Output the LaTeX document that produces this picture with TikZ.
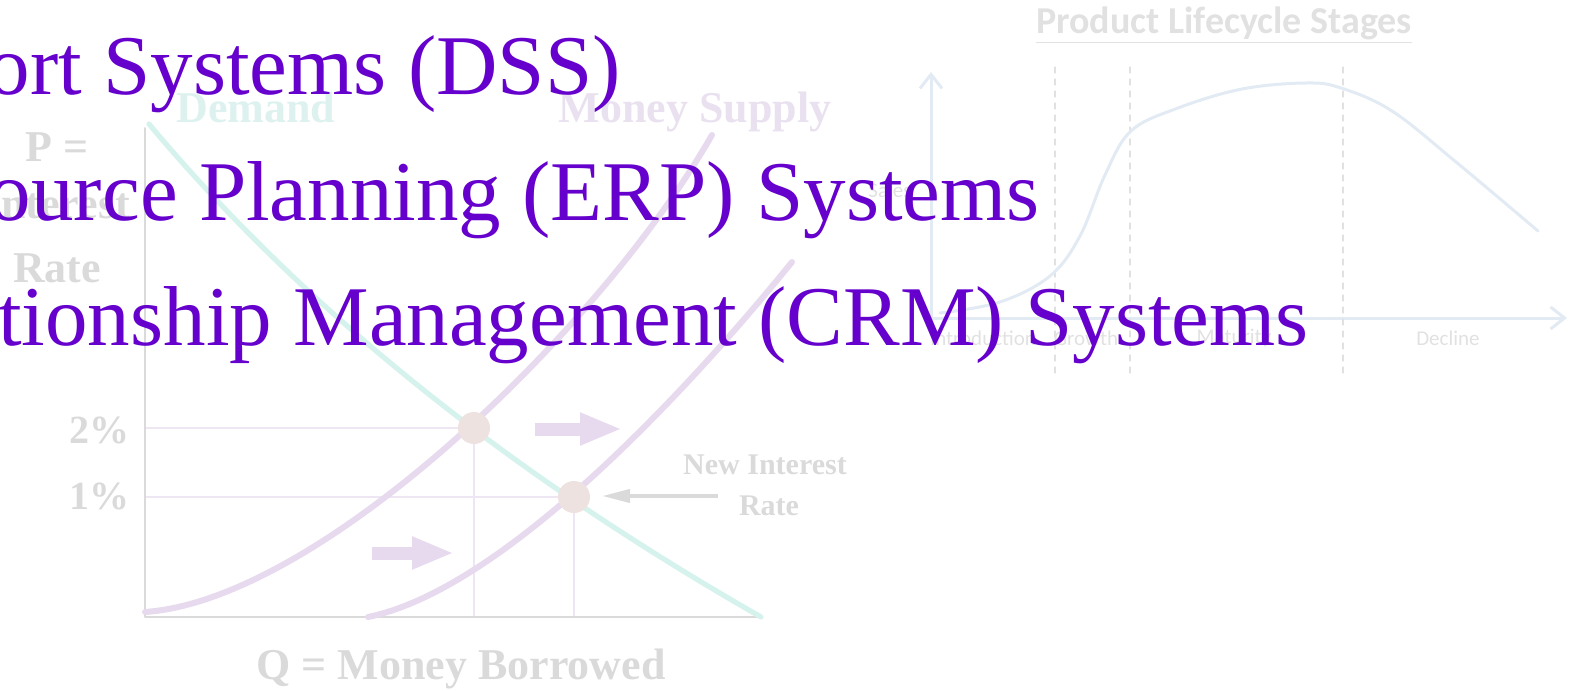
\documentclass[tikz,border=0pt]{standalone}
\usepackage{fontspec}
\setmainfont{Liberation Serif}
\newfontfamily\lifefont{Carlito}
\usetikzlibrary{positioning,calc,arrows.meta}
\definecolor{itempurple}{RGB}{102,0,204}
\definecolor{faintgray}{RGB}{218,218,218}
\definecolor{gridlilac}{RGB}{238,231,243}
\definecolor{demandteal}{RGB}{214,242,236}
\definecolor{demandtext}{RGB}{221,241,238}
\definecolor{supplylilac}{RGB}{231,217,238}
\definecolor{supplytext}{RGB}{233,225,239}
\definecolor{dotpink}{RGB}{238,226,225}
\definecolor{lifeblue}{RGB}{226,234,243}
\definecolor{lifegray}{RGB}{225,225,225}

\begin{document}
\begin{tikzpicture}[x=0.5pt,y=-0.5pt,line cap=round,line join=round,
    axisline/.style={draw=faintgray,line width=1pt},
    guideline/.style={draw=gridlilac,line width=0.8pt},
    demandcurve/.style={draw=demandteal,line width=2.6pt},
    supplycurve/.style={draw=supplylilac,line width=3pt},
    shiftarrow/.style={draw=supplylilac,line width=6.5pt,line cap=butt,
      -{Triangle[length=21pt,width=15pt]}},
    pointer/.style={draw=faintgray,line width=2pt,line cap=butt,
      -{Triangle[length=14pt,width=6.5pt]}},
    econlabel/.style={font=\fontsize{22}{24}\selectfont\bfseries,text=faintgray,inner sep=0},
    econsmall/.style={font=\fontsize{15}{17}\selectfont\bfseries,text=faintgray,inner sep=0},
    lifeaxis/.style={draw=lifeblue,line width=1.5pt,-{Straight Barb[length=7pt,width=11pt]}},
    stagedash/.style={draw=lifegray,line width=0.6pt,dashed},
    stagelabel/.style={font=\lifefont\fontsize{10.5}{12}\selectfont,text=lifegray,inner sep=0},
    bullettext/.style={font=\fontsize{42.5}{48}\selectfont,text=itempurple,inner sep=0}]
  \useasboundingbox (0,0) rectangle (1571,691);

  %% Money market chart (left).
  % axes and guide lines to the two equilibria
  \path (145,128) coordinate (ytop) (145,617) coordinate (orig) (760,617) coordinate (xend);
  \path (474,428) coordinate (eqa) (574,497) coordinate (eqb);
  \draw[guideline] (orig |- eqa) -- (eqa) -- (eqa |- orig);
  \draw[guideline] (orig |- eqb) -- (eqb) -- (eqb |- orig);
  \draw[axisline] (ytop) -- (orig) -- (xend);

  % demand and the two supply curves
  \draw[demandcurve] (149,124) .. controls (303,308) and (507,472) .. (761,617);
  \draw[supplycurve] (145,612) .. controls (320,600) and (600,330) .. (712,135);
  \draw[supplycurve] (368,617) .. controls (500,590) and (680,400) .. (792,262);
  \fill[dotpink] (eqa) circle (8pt) (eqb) circle (8pt);

  % shift arrows
  \path (535,429) coordinate (shifta) (622,429) coordinate (shiftaend);
  \path (372,553) coordinate (shiftb) (454,553) coordinate (shiftbend);
  \draw[shiftarrow] (shifta) -- (shiftaend);
  \draw[shiftarrow] (shiftb) -- (shiftbend);
  \path (718,496) coordinate (pointtail) (602,496) coordinate (pointtip);
  \draw[pointer] (pointtail) -- (pointtip);

  % labels
  \node[econlabel] (plabel) at (57,147) {P =};
  \node[econlabel] (ilabel) at (57,204) {Interest};
  \node[econlabel] (rlabel) at (57,268) {Rate};
  \node[econlabel,font=\fontsize{20}{22}\selectfont\bfseries,anchor=east] (twopct) at (130,430) {2\%};
  \node[econlabel,font=\fontsize{20}{22}\selectfont\bfseries,anchor=east] (onepct) at (130,496) {1\%};
  \node[econlabel] (qlabel) at (461,669) {Q = Money Borrowed};
  \node[econlabel,text=demandtext] (dlabel) at (256,107) {Demand};
  \node[econlabel,text=supplytext] (slabel) at (695,112) {Money Supply};
  \node[econsmall] (newlabel) at (765,465) {New Interest};
  \node[econsmall] (ratelabel) at (769,506) {Rate};

  %% Product lifecycle chart (right).
  \path (931,318) coordinate (lorig) (931,72) coordinate (ltop) (1567,318) coordinate (lend);
  \draw[lifeaxis] (lorig) -- (ltop);
  \draw[lifeaxis] (lorig) -- (lend);
  \foreach \xpos/\tag in {1055/a,1130/b,1343/c} {
    \draw[stagedash] (\xpos,67) coordinate (dtop\tag) -- (\xpos,374) coordinate (dbot\tag);
  }
  \draw[draw=lifeblue,line width=1.5pt] plot[smooth,tension=0.6] coordinates
    {(940,313) (1000,302) (1050,276) (1080,236) (1105,175) (1131,131) (1178,108)
     (1242,89) (1306,83) (1341,88) (1392,111) (1456,162) (1538,231)};
  \node[font=\lifefont\bfseries\fontsize{19}{22}\selectfont,text=lifegray,inner sep=0]
    (lifetitle) at (1224,25) {\underline{Product Lifecycle Stages}};
  \node[stagelabel] (saleslabel) at (890,190) {Sales};
  \foreach \xpos/\stage in {983/Introduction,1086/Growth,1234/Maturity,1448/Decline} {
    \node[stagelabel] (stage\stage) at (\xpos,338) {\stage};
  }

  %% Bullet items on top.
  \foreach \txt/\ybase/\xend [count=\i] in {{ort Systems (DSS)}/94/621,
      {ource Planning (ERP) Systems}/220/1040,
      {tionship Management (CRM) Systems}/345/1309} {
    \node[bullettext,anchor=base east] (item\i) at (\xend,\ybase) {\txt};
  }
\end{tikzpicture}
\end{document}
